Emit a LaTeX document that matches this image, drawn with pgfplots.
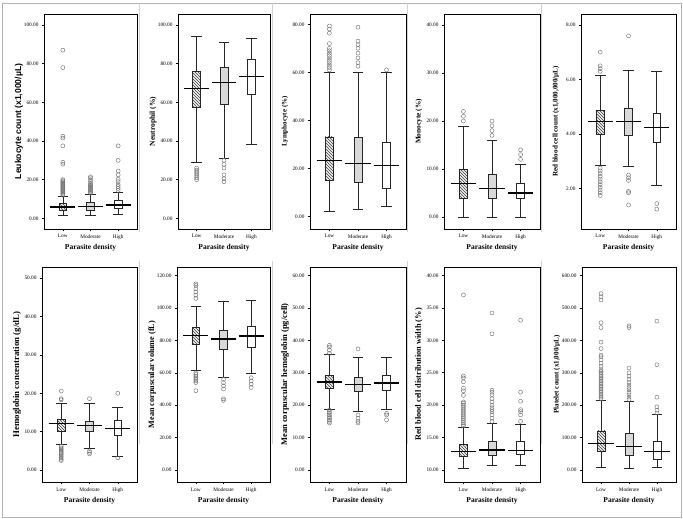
\documentclass[border=0pt]{standalone}
\usepackage{fontspec}
\setmainfont{Liberation Serif}
\newfontfamily\sansb{Liberation Sans}
\usepackage{pgfplots}
\pgfplotsset{compat=1.18}
\usepgfplotslibrary{statistics}
\usetikzlibrary{patterns}

\pgfplotsset{
  panel/.style={
    scale only axis, height=215pt, anchor=south west,
    xmin=0.32, xmax=3.68, xtick={1,2,3}, xticklabels={Low,Moderate,High},
    tick align=outside, major tick length=2pt, xtick pos=bottom, ytick pos=left,
    axis line style={line width=0.7pt, black},
    every tick/.style={black, line width=0.5pt},
    tick label style={font=\fontsize{5.3}{6}\selectfont},
    /pgf/number format/assume math mode=true,
    yticklabel style={/pgf/number format/fixed, /pgf/number format/fixed zerofill, /pgf/number format/precision=2},
    xlabel={Parasite density},
    every axis x label/.style={at={(axis description cs:0.5,0)}, yshift=-19pt, anchor=center, font=\bfseries\fontsize{7.5}{8}\selectfont},
    every axis y label/.style={at={(axis description cs:0,0.5)}, xshift=-25pt, rotate=90, anchor=center, font=\bfseries\fontsize{7.2}{8}\selectfont},
    boxplot/draw direction=y,
  },
  lf/.style={ylabel style={font=\bfseries\fontsize{#1}{#1}\selectfont}},
  bbase/.style={draw=black!85, line width=0.6pt, mark=o, mark size=2pt,
    mark options={draw=black!55, line width=0.45pt, fill=none},
    boxplot/box extend=0.28, boxplot/whisker extend=0.38},
  bL/.style={bbase, boxplot/every box/.style={fill=gray!12, postaction={pattern=north west lines, pattern color=black!75}}},
  bM/.style={bbase, boxplot/every box/.style={fill=gray!30}},
  bH/.style={bbase, boxplot/every box/.style={fill=white}},
  boxplot/draw/median/.code={%
    \draw[line width=1.3pt,black] (boxplot box cs:\pgfplotsboxplotvalue{median},-1.1) -- (boxplot box cs:\pgfplotsboxplotvalue{median},2.1);},
}

\begin{document}
\begin{tikzpicture}
\path (0pt,0pt) rectangle (683pt,519pt);
\draw[gray!60, line width=0.8pt] (2pt,1.5pt) rectangle (681pt,516pt);
\foreach \xx in {139,272,407,541} {
  \draw[gray!35, line width=0.6pt] (\xx pt,287pt) -- (\xx pt,516pt);
  \draw[gray!35, line width=0.6pt] (\xx pt,75pt) -- (\xx pt,258pt);
}

% ---------- Row 1 ----------
\begin{axis}[panel, at={(44pt,290pt)}, width=93pt, ymin=-5.5, ymax=105.7, ytick={0,20,...,100}, ylabel={Leukocyte count (x1,000/µL)}, ylabel style={font=\sansb\bfseries\fontsize{8.6}{9}\selectfont}]
\addplot[bL, boxplot prepared={draw position=1, lower whisker=1.5, lower quartile=4.3, median=5.8, upper quartile=7.7, upper whisker=11.5}] table[row sep=\\, y index=0]{v\\ 12\\ 12.5\\ 13\\ 13.5\\ 14\\ 14.5\\ 15\\ 15.5\\ 16\\ 16.5\\ 17\\ 17.5\\ 18\\ 18.5\\ 19\\ 19.5\\ 20\\ 28\\ 29\\ 37.5\\ 41.5\\ 42.5\\ 78\\ 87\\};
\addplot[bM, boxplot prepared={draw position=2, lower whisker=1.5, lower quartile=4.3, median=6.0, upper quartile=8.2, upper whisker=12.4}] table[row sep=\\, y index=0]{v\\ 13\\ 13.5\\ 14\\ 14.5\\ 15\\ 15.5\\ 16\\ 16.5\\ 17\\ 17.5\\ 18\\ 19\\ 20\\ 21\\ 21.5\\};
\addplot[bH, boxplot prepared={draw position=3, lower whisker=2, lower quartile=5, median=6.9, upper quartile=9.3, upper whisker=13.6}] table[row sep=\\, y index=0]{v\\ 14.5\\ 15.5\\ 16.5\\ 17.5\\ 19\\ 20.2\\ 22.5\\ 24.5\\ 30\\ 37.5\\};
\end{axis}

\begin{axis}[panel, lf=7.5, at={(178pt,290pt)}, width=92pt, ymin=-5.5, ymax=105.7, ytick={0,20,...,100}, ylabel={Neutrophil (\%)}]
\addplot[bL, boxplot prepared={draw position=1, lower whisker=29, lower quartile=57.2, median=67.2, upper quartile=76.2, upper whisker=94.3}] table[row sep=\\, y index=0]{v\\ 26\\ 25\\ 24\\ 23\\ 22\\ 21\\ 20\\};
\addplot[bM, boxplot prepared={draw position=2, lower whisker=31.2, lower quartile=59.1, median=70.3, upper quartile=78.3, upper whisker=91.2}] table[row sep=\\, y index=0]{v\\ 30\\ 28\\ 26\\ 22.5\\ 20.5\\ 19\\};
\addplot[bH, boxplot prepared={draw position=3, lower whisker=38.3, lower quartile=64.1, median=73.3, upper quartile=82.2, upper whisker=93.1}] coordinates {};
\end{axis}

\begin{axis}[panel, lf=7.0, at={(310pt,290pt)}, width=96pt, ymin=-5.3, ymax=84.3, ytick={0,20,...,80}, ylabel={Lymphocyte (\%)}]
\addplot[bL, boxplot prepared={draw position=1, lower whisker=2.1, lower quartile=15, median=23.1, upper quartile=33.1, upper whisker=60}] table[row sep=\\, y index=0]{v\\ 61\\ 62\\ 63\\ 64\\ 65\\ 66\\ 67\\ 68\\ 69\\ 70\\ 72\\ 76.3\\ 78\\ 79.3\\};
\addplot[bM, boxplot prepared={draw position=2, lower whisker=2.9, lower quartile=14, median=21.9, upper quartile=33, upper whisker=60}] table[row sep=\\, y index=0]{v\\ 62.5\\ 64\\ 66\\ 68\\ 70\\ 71.5\\ 73\\ 78.8\\};
\addplot[bH, boxplot prepared={draw position=3, lower whisker=4, lower quartile=11.5, median=21.1, upper quartile=31, upper whisker=60}] table[row sep=\\, y index=0]{v\\ 61\\};
\end{axis}

\begin{axis}[panel, lf=7.3, at={(444pt,290pt)}, width=96pt, ymin=-2.5, ymax=42.3, ytick={0,10,...,40}, ylabel={Monocyte (\%)}]
\addplot[bL, boxplot prepared={draw position=1, lower whisker=0, lower quartile=4, median=7, upper quartile=10, upper whisker=19}] table[row sep=\\, y index=0]{v\\ 20\\ 21\\ 22\\};
\addplot[bM, boxplot prepared={draw position=2, lower whisker=0, lower quartile=4, median=6, upper quartile=9, upper whisker=16}] table[row sep=\\, y index=0]{v\\ 17\\ 18\\ 19\\ 20\\};
\addplot[bH, boxplot prepared={draw position=3, lower whisker=0, lower quartile=4, median=5, upper quartile=7, upper whisker=11}] table[row sep=\\, y index=0]{v\\ 12\\ 13\\ 14\\};
\end{axis}

\begin{axis}[panel, lf=7.1, at={(581pt,290pt)}, width=95pt, ymin=0.52, ymax=8.4, ytick={2,4,6,8}, ylabel={Red blood cell count (x1,000,000/µL)}]
\addplot[bL, boxplot prepared={draw position=1, lower whisker=2.85, lower quartile=4.0, median=4.45, upper quartile=4.88, upper whisker=6.15}] table[row sep=\\, y index=0]{v\\ 6.3\\ 6.4\\ 6.5\\ 7.0\\ 2.75\\ 2.65\\ 2.55\\ 2.45\\ 2.35\\ 2.25\\ 2.15\\ 2.05\\ 1.95\\ 1.85\\ 1.75\\};
\addplot[bM, boxplot prepared={draw position=2, lower whisker=2.8, lower quartile=3.97, median=4.45, upper quartile=4.94, upper whisker=6.35}] table[row sep=\\, y index=0]{v\\ 7.6\\ 2.5\\ 2.4\\ 2.3\\ 1.9\\ 1.85\\ 1.4\\};
\addplot[bH, boxplot prepared={draw position=3, lower whisker=2.13, lower quartile=3.7, median=4.25, upper quartile=4.75, upper whisker=6.3}] table[row sep=\\, y index=0]{v\\ 1.45\\ 1.25\\};
\end{axis}

% ---------- Row 2 ----------
\begin{axis}[panel, lf=8.8, at={(42pt,37pt)}, width=95pt, ymin=-3.1, ymax=52.9, ytick={0,10,...,50}, ylabel={Hemoglobin concentration (g/dL)}]
\addplot[bL, boxplot prepared={draw position=1, lower whisker=6.7, lower quartile=10, median=12.1, upper quartile=13.2, upper whisker=17.4}] table[row sep=\\, y index=0]{v\\ 18.3\\ 18.6\\ 20.6\\ 6.2\\ 5.8\\ 5.5\\ 5.2\\ 4.9\\ 4.6\\ 4.3\\ 4.0\\ 3.6\\ 3.2\\ 2.8\\ 2.5\\};
\addplot[bM, boxplot prepared={draw position=2, lower whisker=5.8, lower quartile=10, median=11.6, upper quartile=12.8, upper whisker=17.5}] table[row sep=\\, y index=0]{v\\ 18.6\\ 5.0\\ 4.6\\ 4.2\\};
\addplot[bH, boxplot prepared={draw position=3, lower whisker=3.5, lower quartile=9.1, median=10.9, upper quartile=13, upper whisker=16.3}] table[row sep=\\, y index=0]{v\\ 20.0\\ 3.2\\};
\end{axis}

\begin{axis}[panel, lf=8.2, at={(177pt,37pt)}, width=93pt, ymin=-7.4, ymax=125.4, ytick={0,20,...,120}, ylabel={Mean corpuscular volume (fL)}]
\addplot[bL, boxplot prepared={draw position=1, lower whisker=61.5, lower quartile=77.8, median=83.3, upper quartile=88, upper whisker=101}] table[row sep=\\, y index=0]{v\\ 106\\ 108\\ 110\\ 112\\ 114\\ 115\\ 60\\ 59\\ 58\\ 57\\ 56\\ 55\\ 54\\ 49\\};
\addplot[bM, boxplot prepared={draw position=2, lower whisker=57.4, lower quartile=74.8, median=81, upper quartile=86.5, upper whisker=104}] table[row sep=\\, y index=0]{v\\ 56\\ 54\\ 52\\ 50\\ 44\\ 43\\};
\addplot[bH, boxplot prepared={draw position=3, lower whisker=59.6, lower quartile=76.1, median=82.7, upper quartile=88.5, upper whisker=105}] table[row sep=\\, y index=0]{v\\ 57\\ 55\\ 53\\ 51\\};
\end{axis}

\begin{axis}[panel, lf=8.5, at={(310pt,37pt)}, width=96pt, ymin=-3.7, ymax=62.7, ytick={0,10,...,60}, ylabel={Mean corpuscular hemoglobin (pg/cell)}]
\addplot[bL, boxplot prepared={draw position=1, lower whisker=18.9, lower quartile=25.3, median=27.2, upper quartile=29.2, upper whisker=35.7}] table[row sep=\\, y index=0]{v\\ 36\\ 37\\ 38\\ 38.5\\ 18.5\\ 18\\ 17.5\\ 17\\ 16.5\\ 16\\ 15.5\\ 15\\ 14.5\\};
\addplot[bM, boxplot prepared={draw position=2, lower whisker=18.1, lower quartile=24.3, median=26.4, upper quartile=28.7, upper whisker=34.9}] table[row sep=\\, y index=0]{v\\ 37.4\\ 17\\ 16\\ 15\\ 14.5\\};
\addplot[bH, boxplot prepared={draw position=3, lower whisker=18.9, lower quartile=24.7, median=26.9, upper quartile=29.2, upper whisker=34.8}] table[row sep=\\, y index=0]{v\\ 17.5\\ 17\\ 15.5\\};
\end{axis}

\begin{axis}[panel, lf=8.3, at={(444pt,37pt)}, width=96pt, ymin=8.15, ymax=41.3, ytick={10,15,...,40}, ylabel={Red blood cell distribution width (\%)}]
\addplot[bL, boxplot prepared={draw position=1, lower whisker=10.3, lower quartile=12.1, median=12.9, upper quartile=14.0, upper whisker=16.6}] table[row sep=\\, y index=0]{v\\ 16.8\\ 17\\ 17.3\\ 17.6\\ 17.9\\ 18.2\\ 18.5\\ 18.8\\ 19.1\\ 19.4\\ 19.7\\ 20\\ 20.3\\ 20.5\\ 21.5\\ 22.2\\ 22.6\\ 23.6\\ 24.2\\ 24.5\\ 37\\};
\addplot[bM, boxplot prepared={draw position=2, lower whisker=10.8, lower quartile=12.3, median=13.1, upper quartile=14.4, upper whisker=17.2}] table[row sep=\\, y index=0]{v\\ 17.5\\ 18\\ 18.5\\ 19\\ 19.3\\ 19.6\\ 20\\ 20.5\\ 21\\ 21.6\\ 22\\ 22.3\\ 31\\ 34.2\\};
\addplot[bH, boxplot prepared={draw position=3, lower whisker=10.8, lower quartile=12.4, median=13.0, upper quartile=14.4, upper whisker=17.0}] table[row sep=\\, y index=0]{v\\ 17.5\\ 18.5\\ 19\\ 19.3\\ 20.6\\ 22\\ 33.1\\};
\end{axis}

\begin{axis}[panel, lf=7.1, at={(582pt,37pt)}, width=94pt, ymin=-37, ymax=627, ytick={0,100,...,600}, ylabel={Platelet count (x1,000/µL)}]
\addplot[bL, boxplot prepared={draw position=1, lower whisker=8, lower quartile=57, median=82, upper quartile=121, upper whisker=216}] table[row sep=\\, y index=0]{v\\ 220\\ 225\\ 230\\ 235\\ 240\\ 245\\ 250\\ 255\\ 260\\ 265\\ 270\\ 275\\ 280\\ 285\\ 290\\ 295\\ 300\\ 305\\ 310\\ 320\\ 330\\ 340\\ 350\\ 355\\ 375\\ 395\\ 440\\ 455\\ 525\\ 535\\ 545\\};
\addplot[bM, boxplot prepared={draw position=2, lower whisker=5, lower quartile=46, median=72, upper quartile=113, upper whisker=213}] table[row sep=\\, y index=0]{v\\ 218\\ 225\\ 232\\ 240\\ 248\\ 255\\ 262\\ 270\\ 280\\ 290\\ 300\\ 315\\ 440\\ 445\\};
\addplot[bH, boxplot prepared={draw position=3, lower whisker=7, lower quartile=34, median=57, upper quartile=88, upper whisker=171}] table[row sep=\\, y index=0]{v\\ 176\\ 185\\ 195\\ 225\\ 325\\ 460\\};
\end{axis}
\end{tikzpicture}
\end{document}
